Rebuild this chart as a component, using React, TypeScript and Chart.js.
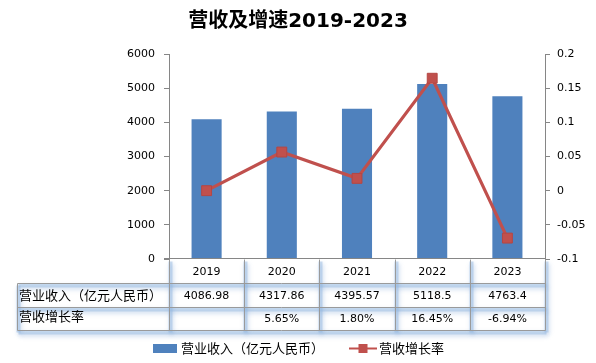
import React, { useEffect, useRef } from 'react';
import { Chart, registerables } from 'chart.js';

Chart.register(...registerables);

const title = '营收及增速2019-2023';
const years = ['2019', '2020', '2021', '2022', '2023'];
const revenue = [4086.98, 4317.86, 4395.57, 5118.5, 4763.4];
const growth = [0, 0.0565, 0.018, 0.1645, -0.0694];
const revenueLabels = ['4086.98', '4317.86', '4395.57', '5118.5', '4763.4'];
const growthLabels = ['', '5.65%', '1.80%', '16.45%', '-6.94%'];
const leftTicks = [0, 1000, 2000, 3000, 4000, 5000, 6000];
const rightTicks = [-0.1, -0.05, 0, 0.05, 0.1, 0.15, 0.2];
const revenueName = '营业收入（亿元人民币）';
const growthName = '营收增长率';

const BLUE = '#4F81BD';
const RED = '#C0504D';
const AXIS = '#868686';
const NUM_FONT = "11px 'DejaVu Sans', 'Noto Sans CJK SC', sans-serif";
const CJK_FONT = "13px 'Noto Sans CJK SC', 'DejaVu Sans', sans-serif";

const extras = {
  id: 'extras',
  afterDraw(chart: any) {
    const ctx: CanvasRenderingContext2D = chart.ctx;
    const x = chart.scales.x;
    const area = chart.chartArea;
    ctx.save();

    // Title
    ctx.fillStyle = '#000';
    ctx.font = "bold 20px 'DejaVu Sans', 'Noto Sans CJK SC', sans-serif";
    ctx.textAlign = 'center';
    ctx.textBaseline = 'middle';
    ctx.fillText(title, chart.width / 2, 22);

    // Table geometry
    const step = x.getPixelForValue(1) - x.getPixelForValue(0);
    const cols: number[] = years.map((_, i) => x.getPixelForValue(i) - step / 2);
    cols.push(x.getPixelForValue(years.length - 1) + step / 2);
    const left = cols[0];
    const right = cols[cols.length - 1];
    const top = area.bottom;
    const r1 = top + 24.3;
    const r2 = r1 + 23.7;
    const r3 = r2 + 23.3;
    const labelEdge = 16.5;

    const segs: number[][] = [];
    segs.push([labelEdge, r1, right, r1]);
    segs.push([labelEdge, r2, right, r2]);
    segs.push([labelEdge, r3, right, r3]);
    segs.push([labelEdge, r1, labelEdge, r3]);
    cols.forEach((c) => segs.push([c, top, c, r3]));

    const crisp = (v: number) => Math.round(v) + 0.5;

    // glow
    ctx.save();
    ctx.strokeStyle = 'rgba(150,185,225,0.5)';
    ctx.lineWidth = 4;
    ctx.shadowColor = 'rgba(120,160,210,0.7)';
    ctx.shadowBlur = 4;
    ctx.shadowOffsetX = 1;
    ctx.shadowOffsetY = 2;
    segs.forEach(([a, b, c, d]) => {
      ctx.beginPath();
      ctx.moveTo(crisp(a) + 1, crisp(b) + 2);
      ctx.lineTo(crisp(c) + 1, crisp(d) + 2);
      ctx.stroke();
    });
    ctx.restore();

    ctx.strokeStyle = '#9a9a9a';
    ctx.lineWidth = 1;
    segs.forEach(([a, b, c, d]) => {
      ctx.beginPath();
      ctx.moveTo(crisp(a), crisp(b));
      ctx.lineTo(crisp(c), crisp(d));
      ctx.stroke();
    });

    // x axis line
    ctx.strokeStyle = AXIS;
    ctx.beginPath();
    ctx.moveTo(left - 5, crisp(top) - 1);
    ctx.lineTo(right, crisp(top) - 1);
    ctx.stroke();

    // Table text
    ctx.fillStyle = '#000';
    ctx.textAlign = 'center';
    ctx.textBaseline = 'middle';
    ctx.font = NUM_FONT;
    years.forEach((y, i) => {
      const cx = x.getPixelForValue(i);
      ctx.fillText(y, cx, (top + r1) / 2 + 0.5);
      ctx.fillText(revenueLabels[i], cx, (r1 + r2) / 2 + 0.5);
      ctx.fillText(growthLabels[i], cx, (r2 + r3) / 2 + 0.5);
    });
    ctx.textAlign = 'left';
    ctx.font = CJK_FONT;
    ctx.fillText(revenueName, 19, (r1 + r2) / 2);
    ctx.fillText(growthName, 19, r2 + 9);

    // Legend
    const ly = 348.5;
    ctx.fillStyle = BLUE;
    ctx.fillRect(153, ly - 4.5, 24, 9);
    ctx.fillStyle = '#000';
    ctx.fillText(revenueName, 181, ly);
    ctx.strokeStyle = RED;
    ctx.lineWidth = 2;
    ctx.beginPath();
    ctx.moveTo(349, ly);
    ctx.lineTo(377, ly);
    ctx.stroke();
    ctx.fillStyle = RED;
    ctx.fillRect(358.5, ly - 4.5, 9, 9);
    ctx.fillStyle = '#000';
    ctx.fillText(growthName, 379, ly);

    ctx.restore();
  },
};

export default function App() {
  const ref = useRef<HTMLCanvasElement | null>(null);

  useEffect(() => {
    document.body.style.margin = '0';
    const canvas = ref.current;
    if (!canvas) return;
    const chart = new Chart(canvas, {
      type: 'bar',
      data: {
        labels: years,
        datasets: [
          {
            type: 'line',
            label: growthName,
            data: growth,
            yAxisID: 'y1',
            borderColor: RED,
            backgroundColor: RED,
            borderWidth: 3.2,
            pointStyle: 'rect',
            pointRadius: 7,
            pointBorderWidth: 1,
            pointBorderColor: '#B54643',
            pointBackgroundColor: RED,
            tension: 0,
            order: 0,
          } as any,
          {
            type: 'bar',
            label: revenueName,
            data: revenue,
            yAxisID: 'y',
            backgroundColor: BLUE,
            borderWidth: 0,
            categoryPercentage: 1,
            barPercentage: 0.4,
            order: 1,
          },
        ],
      },
      options: {
        responsive: false,
        animation: false,
        devicePixelRatio: 1,
        layout: { padding: { top: 54, bottom: 104, left: 0, right: 0 } },
        plugins: {
          legend: { display: false },
          title: { display: false },
          tooltip: { enabled: false },
        },
        scales: {
          x: { display: false, offset: true },
          y: {
            position: 'left',
            min: 0,
            max: 6000,
            afterBuildTicks: (s: any) => {
              s.ticks = leftTicks.map((v) => ({ value: v }));
            },
            afterFit: (s: any) => {
              s.width = 169;
            },
            ticks: {
              padding: 9,
              color: '#000',
              font: { family: "'DejaVu Sans', sans-serif", size: 11 },
              callback: (v: any) => String(v),
            },
            grid: { drawOnChartArea: false, drawTicks: true, tickLength: 5, color: AXIS },
            border: { display: true, color: AXIS, width: 1 },
          },
          y1: {
            position: 'right',
            min: -0.1,
            max: 0.2,
            afterBuildTicks: (s: any) => {
              s.ticks = rightTicks.map((v) => ({ value: v }));
            },
            afterFit: (s: any) => {
              s.width = 51;
            },
            ticks: {
              padding: 7,
              color: '#000',
              font: { family: "'DejaVu Sans', sans-serif", size: 11 },
              callback: (v: any) => String(Math.round(Number(v) * 100) / 100),
            },
            grid: { drawOnChartArea: false, drawTicks: true, tickLength: 5, color: AXIS },
            border: { display: true, color: AXIS, width: 1 },
          },
        },
      },
      plugins: [extras],
    });
    return () => chart.destroy();
  }, []);

  return (
    <div style={{ position: 'absolute', left: 0, top: 0, width: 596, height: 363, background: '#fff' }}>
      <canvas ref={ref} width={596} height={363} style={{ display: 'block', width: 596, height: 363 }} />
    </div>
  );
}
